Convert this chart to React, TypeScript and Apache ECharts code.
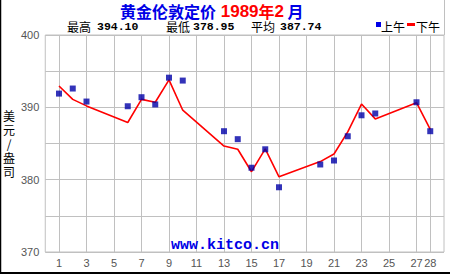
import React, { useEffect, useRef } from "react";
import * as echarts from "echarts";

// x axis: day slots 0..29 (trading days 1..28 sit inside)
const dayAxis = ["0","1","2","3","4","5","6","7","8","9","10","11","12","13","14","15","16","17","18","19","20","21","22","23","24","25","26","27","28","29"];
const xTickDays = [1, 3, 5, 7, 9, 11, 13, 15, 17, 19, 21, 23, 25, 27, 28];
const yTickLabels = [370, 380, 390, 400];

const tradingDays = [1, 2, 3, 6, 7, 8, 9, 10, 13, 14, 15, 16, 17, 20, 21, 22, 23, 24, 27, 28];
const amFix = [391.9, 392.6, 390.8, 390.15, 391.4, 390.4, 394.1, 393.7, 386.7, 385.6, 381.65, 384.2, 378.95, 382.1, 382.65, 386.0, 388.9, 389.15, 390.7, 386.7];
const pmFix = [392.95, 391.1, 390.2, 387.9, 391.1, 390.7, 393.8, 389.6, 384.65, 384.2, 381.1, 384.25, 380.4, 382.5, 383.55, 386.6, 390.45, 388.4, 390.65, 386.95];

const statHigh = "394.10";
const statLow = "378.95";
const statAvg = "387.74";

const CJK = "'Noto Sans CJK SC', sans-serif";
const MONO = "'Liberation Mono', 'DejaVu Sans Mono', monospace";
const SANS = "'Liberation Sans', Arial, sans-serif";

export default function App() {
  const ref = useRef<HTMLDivElement>(null);
  useEffect(() => {
    if (!ref.current) return;
    const chart = echarts.init(ref.current, null, { renderer: "svg" });
    const showTick = (idx: number, val: string) => xTickDays.indexOf(Number(val)) >= 0;
    const txt = (x: number, text: string, font: string, size: number, weight: string, fill = "#000") => ({
      type: "text",
      x,
      y: 26,
      style: { text, fontFamily: font, fontSize: size, fontWeight: weight, fill, verticalAlign: "middle", textAlign: "left" },
    });
    chart.setOption({
      animation: false,
      backgroundColor: "#ffffff",
      title: {
        text: "{b|黄金伦敦定价}{r| 1989}{rc|年}{r|2}{b| 月}",
        left: 120,
        top: 2,
        padding: 0,
        textStyle: {
          rich: {
            b: { fontFamily: CJK, fontSize: 16, fontWeight: "bold", color: "#0000e6", lineHeight: 18 },
            r: { fontFamily: SANS, fontSize: 17, color: "#ff0000", lineHeight: 18 },
            rc: { fontFamily: CJK, fontSize: 16, fontWeight: "bold", color: "#ff0000", lineHeight: 18 },
          },
        },
      },
      grid: { left: 40, top: 35, right: 6, bottom: 23, show: true, borderColor: "#c0c0c0", borderWidth: 1, backgroundColor: "#ffffff" },
      xAxis: {
        type: "category",
        data: dayAxis,
        boundaryGap: false,
        axisLine: { show: false },
        axisTick: { show: false },
        axisLabel: { interval: showTick, color: "#555", fontFamily: SANS, fontSize: 11, margin: 5 },
        splitLine: { show: true, interval: showTick, lineStyle: { color: "#c0c0c0", width: 1 } },
      },
      yAxis: {
        type: "value",
        min: 370,
        max: 400,
        interval: 5,
        name: "美\n元\n/\n盎\n司",
        nameLocation: "middle",
        nameRotate: 0,
        nameGap: 34,
        nameTextStyle: { fontFamily: CJK, fontSize: 12, lineHeight: 14, color: "#000", align: "center", verticalAlign: "middle" },
        axisLine: { show: false },
        axisTick: { show: false },
        axisLabel: {
          color: "#555",
          fontFamily: SANS,
          fontSize: 11,
          margin: 6,
          formatter: (v: number) => (yTickLabels.indexOf(v) >= 0 ? String(v) : ""),
        },
        splitLine: { show: true, lineStyle: { color: "#c0c0c0", width: 1 } },
      },
      series: [
        {
          name: "下午",
          type: "line",
          data: tradingDays.map((d, i) => [String(d), pmFix[i]]),
          showSymbol: false,
          symbol: "none",
          lineStyle: { color: "#ff0000", width: 1.6 },
          itemStyle: { color: "#ff0000" },
          z: 2,
        },
        {
          name: "上午",
          type: "scatter",
          data: tradingDays.map((d, i) => [String(d), amFix[i]]),
          symbol: "rect",
          symbolSize: 6,
          itemStyle: { color: "#0000a8" },
          z: 3,
        },
      ],
      graphic: [
        txt(67, "最高", CJK, 12, "normal"),
        txt(97, statHigh, MONO, 11.5, "bold"),
        txt(166, "最低", CJK, 12, "normal"),
        txt(193, statLow, MONO, 11.5, "bold"),
        txt(251, "平均", CJK, 12, "normal"),
        txt(280, statAvg, MONO, 11.5, "bold"),
        { type: "rect", shape: { x: 376, y: 22, width: 5, height: 5 }, style: { fill: "#0000e6" } },
        txt(381, "上午", CJK, 12, "normal"),
        { type: "rect", shape: { x: 407, y: 23, width: 8, height: 3 }, style: { fill: "#ff0000" } },
        txt(416, "下午", CJK, 12, "normal"),
        {
          type: "text",
          x: 225,
          y: 245.5,
          z: 10,
          style: { text: "www.kitco.cn", fontFamily: MONO, fontSize: 15, fontWeight: "bold", fill: "#0000e6", textAlign: "center", verticalAlign: "middle" },
        },
        { type: "line", shape: { x1: 0.5, y1: 0, x2: 0.5, y2: 274 }, style: { stroke: "#000", lineWidth: 1.5 } },
        { type: "line", shape: { x1: 0, y1: 273, x2: 450, y2: 273 }, style: { stroke: "#000", lineWidth: 2 } },
        { type: "line", shape: { x1: 444.5, y1: 0, x2: 444.5, y2: 35 }, style: { stroke: "#c0c0c0", lineWidth: 1 } },
      ],
    });
    return () => chart.dispose();
  }, []);
  return <div ref={ref} style={{ position: "fixed", left: 0, top: 0, width: 450, height: 275 }} />;
}
